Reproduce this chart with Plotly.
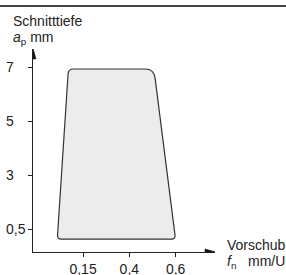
import numpy as np
import plotly.graph_objects as go

# ---- data (schematic positions: ticks sit at equally spaced index positions) ----
feed_tick_labels = ["0,15", "0,4", "0,6"]
feed_tick_pos = [1, 2, 3]
depth_tick_labels = ["0,5", "3", "5", "7"]
depth_tick_pos = [1, 2, 3, 4]

# application region (corners: top-left, top-right, bottom-right, bottom-left)
region_feed = [0.683, 2.531, 2.998, 0.443]
region_depth = [3.968, 3.968, 0.819, 0.819]
corner_radius_px = [5, 9, 4, 4]

# ---- layout geometry ----
W, H = 286, 275
ML, MR, MT, MB = 33, 71, 49, 23
PW, PH = W - ML - MR, H - MT - MB
XR = [-0.082, 3.851]
YR = [0.579, 4.338]
SX = PW / (XR[1] - XR[0])
SY = PH / (YR[1] - YR[0])
FONT = "Liberation Sans, Arial, Helvetica, sans-serif"
TXT = "#222222"


def px_x(px):
    return (px - ML) / PW


def px_y(py):
    return (H - MB - py) / PH


def rounded_path(xs, ys, rs):
    pts = np.column_stack([np.asarray(xs) * SX, np.asarray(ys) * SY])
    n = len(pts)
    parts = []
    for i in range(n):
        v, p, q = pts[i], pts[i - 1], pts[(i + 1) % n]
        d1 = (p - v) / np.linalg.norm(p - v)
        d2 = (q - v) / np.linalg.norm(q - v)
        a = v + d1 * rs[i]
        b = v + d2 * rs[i]
        f = lambda z: f"{z[0] / SX:.5f},{z[1] / SY:.5f}"
        parts.append(("M " if i == 0 else "L ") + f(a) + " Q " + f(v) + " " + f(b))
    return " ".join(parts) + " Z"


fig = go.Figure()
fig.add_trace(go.Scatter(x=[None], y=[None], showlegend=False, hoverinfo="skip"))

shapes = [
    dict(type="path", xref="x", yref="y",
         path=rounded_path(region_feed, region_depth, corner_radius_px),
         fillcolor="#ececec", line=dict(color="#333333", width=1.2), layer="above"),
    # top rule
    dict(type="line", xref="paper", yref="paper", x0=px_x(0), x1=px_x(W),
         y0=px_y(6), y1=px_y(6), line=dict(color="#444444", width=2)),
    # y arrow head
    dict(type="path", xref="x", yref="y", xsizemode="pixel", ysizemode="pixel",
         xanchor=XR[0], yanchor=YR[1], path="M 0,1 L -3,-10 L 3,-10 Z",
         fillcolor="#111111", line=dict(color="#111111", width=0.5)),
    # x arrow head
    dict(type="path", xref="x", yref="y", xsizemode="pixel", ysizemode="pixel",
         xanchor=XR[1], yanchor=YR[0], path="M 1,0 L -10,3 L -10,-3 Z",
         fillcolor="#111111", line=dict(color="#111111", width=0.5)),
]

annotations = []
for lab, pos in zip(depth_tick_labels, depth_tick_pos):
    annotations.append(dict(text=lab, xref="paper", yref="y", x=px_x(4), y=pos,
                            xanchor="left", yanchor="middle", showarrow=False,
                            font=dict(size=14, color=TXT, family=FONT)))
annotations += [
    dict(text="Schnitttiefe", xref="paper", yref="paper", x=px_x(11), y=px_y(21),
         xanchor="left", yanchor="middle", showarrow=False,
         font=dict(size=14, color=TXT, family=FONT)),
    dict(text="<i>a</i><sub>p</sub> mm", xref="paper", yref="paper", x=px_x(11), y=px_y(38),
         xanchor="left", yanchor="middle", showarrow=False,
         font=dict(size=14, color=TXT, family=FONT)),
    dict(text="Vorschub", xref="paper", yref="paper", x=px_x(225), y=px_y(245),
         xanchor="left", yanchor="middle", showarrow=False,
         font=dict(size=14, color=TXT, family=FONT)),
    dict(text="<i>f</i><sub>n</sub>   mm/U", xref="paper", yref="paper", x=px_x(225), y=px_y(262),
         xanchor="left", yanchor="middle", showarrow=False,
         font=dict(size=14, color=TXT, family=FONT)),
]

fig.update_layout(
    template="none",
    width=W, height=H, margin=dict(l=ML, r=MR, t=MT, b=MB, pad=0),
    paper_bgcolor="white", plot_bgcolor="white", showlegend=False,
    shapes=shapes, annotations=annotations,
    xaxis=dict(range=XR, tickvals=feed_tick_pos, ticktext=feed_tick_labels,
               ticks="outside", ticklen=4, tickwidth=1, tickcolor="#222222",
               showline=True, linecolor="#222222", linewidth=1.3, automargin=False,
               showgrid=False, zeroline=False, fixedrange=True,
               tickfont=dict(size=14, color=TXT, family=FONT)),
    yaxis=dict(range=YR, tickvals=depth_tick_pos, showticklabels=False,
               ticks="outside", ticklen=4, tickwidth=1, tickcolor="#222222",
               showline=True, linecolor="#222222", linewidth=1.3, automargin=False,
               showgrid=False, zeroline=False, fixedrange=True),
)

fig.write_html("out.html", config={"displayModeBar": False, "responsive": False},
               post_script="document.body.style.margin='0px';document.body.style.overflow='hidden';")
